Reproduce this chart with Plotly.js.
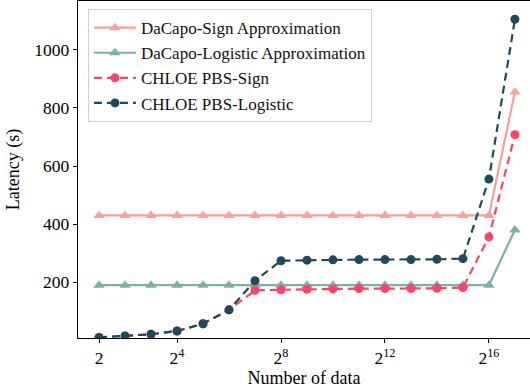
<!DOCTYPE html>
<html>
<head>
<meta charset="utf-8">
<script src="https://cdn.plot.ly/plotly-3.0.1.min.js"></script>
<style>
html,body{margin:0;padding:0;overflow:hidden;background:#fff;}
#chart{width:530px;height:390px;}
</style>
</head>
<body>
<div id="chart"></div>
<script>
const numData = [2,4,8,16,32,64,128,256,512,1024,2048,4096,8192,16384,32768,65536,131072];
const dacapoSign = [430,430,430,430,430,430,430,430,430,430,430,430,430,430,430,430,855];
const dacapoLogistic = [190,190,190,190,190,190,190,190,190,190,190,190,190,190,190,190,380];
const chloeSign = [10,15,21,32,57,105,172,174,176,177,178,178,178,179,182,356,708];
const chloeLogistic = [10,15,21,32,57,105,205,274,276,277,278,278,278,279,281,555,1105];
const seriesNames = ["DaCapo-Sign Approximation","DaCapo-Logistic Approximation","CHLOE PBS-Sign","CHLOE PBS-Logistic"];
const xTickVals = [2,16,256,4096,65536];
const xTickText = ["2","2<sup>4</sup>","2<sup>8</sup>","2<sup>12</sup>","2<sup>16</sup>"];
const yTickVals = [200,400,600,800,1000];

const font = "Liberation Serif";
const traces = [
  {x:numData,y:dacapoSign,name:seriesNames[0],mode:"lines+markers",
   line:{color:"#F9A09A",width:2.2},marker:{symbol:"triangle-up",size:10,color:"#F9A09A"}},
  {x:numData,y:dacapoLogistic,name:seriesNames[1],mode:"lines+markers",
   line:{color:"#7DAFA9",width:2.2},marker:{symbol:"triangle-up",size:10,color:"#7DAFA9"}},
  {x:numData,y:chloeSign,name:seriesNames[2],mode:"lines+markers",
   line:{color:"#FB4467",width:2.2,dash:"8px,5px"},marker:{symbol:"circle",size:9,color:"#FB4467"}},
  {x:numData,y:chloeLogistic,name:seriesNames[3],mode:"lines+markers",
   line:{color:"#1E4A5B",width:2.2,dash:"8px,5px"},marker:{symbol:"circle",size:9,color:"#1E4A5B"}}
];
const layout = {
  width:530,height:390,
  margin:{l:78,r:0,t:1,b:52},
  paper_bgcolor:"#fff",plot_bgcolor:"#fff",
  font:{family:font,size:17,color:"#000"},
  showlegend:true,
  legend:{x:0.022,y:0.976,xanchor:"left",yanchor:"top",bgcolor:"rgba(255,255,255,0.9)",
    bordercolor:"#d0d0d0",borderwidth:1,font:{family:font,size:17,color:"#111"},
    itemwidth:42,tracegroupgap:0},
  xaxis:{type:"log",range:[0.19*Math.log10(2),17.58*Math.log10(2)],
    tickvals:xTickVals,ticktext:xTickText,ticks:"outside",ticklen:4,tickcolor:"#000",
    showgrid:false,zeroline:false,showline:true,linecolor:"#000",linewidth:1.2,mirror:true,
    tickfont:{family:font,size:17.5},
    title:{text:"Number of data",font:{family:font,size:18},standoff:4}},
  yaxis:{range:[8,1168],tickvals:yTickVals,ticks:"outside",ticklen:4,tickcolor:"#000",
    showgrid:false,zeroline:false,showline:true,linecolor:"#000",linewidth:1.2,
    tickfont:{family:font,size:17.5},
    title:{text:"Latency (s)",font:{family:font,size:18},standoff:10}}
};
Plotly.newPlot("chart",traces,layout,{displayModeBar:false,staticPlot:true});
</script>
</body>
</html>
